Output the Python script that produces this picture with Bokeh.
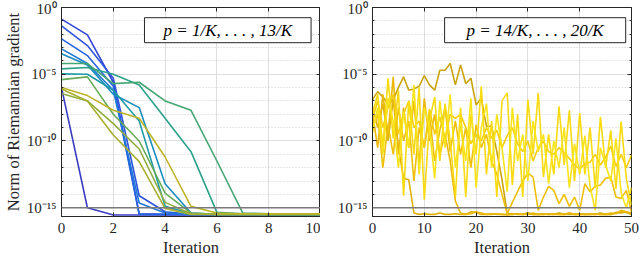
import numpy as np
from bokeh.plotting import figure
from bokeh.layouts import row
from bokeh.models import (Range1d, FixedTicker, CustomJSTickFormatter, Span, Label,
                          LinearAxis, LogAxis)
from bokeh.embed import file_html
from bokeh.resources import INLINE

# ---------------- data (log10 of gradient norm) ----------------
iter_left = list(range(11))
iter_right = list(range(51))

left_p01 = [-6.0, -15.0, -15.55, -15.55, -15.55, -15.55, -15.55, -15.55, -15.55, -15.55, -15.55]
left_p02 = [-0.87, -2.05, -5.6, -15.45, -15.5, -15.5, -15.5, -15.5, -15.5, -15.5, -15.5]
left_p03 = [-1.38, -2.85, -5.3, -14.1, -15.3, -15.5, -15.5, -15.5, -15.5, -15.5, -15.5]
left_p04 = [-2.35, -3.6, -5.9, -15.5, -15.5, -15.5, -15.5, -15.5, -15.5, -15.5, -15.5]
left_p05 = [-3.1, -4.2, -6.2, -14.65, -15.4, -15.5, -15.5, -15.5, -15.5, -15.5, -15.5]
left_p06 = [-3.47, -4.3, -6.5, -7.5, -13.2, -15.4, -15.5, -15.5, -15.5, -15.5, -15.5]
left_p07 = [-4.97, -5.0, -6.2, -8.5, -14.9, -15.45, -15.5, -15.5, -15.5, -15.5, -15.5]
left_p08 = [-4.6, -4.5, -5.0, -5.8, -8.3, -10.8, -15.35, -15.45, -15.5, -15.5, -15.5]
left_p09 = [-4.2, -4.2, -5.7, -5.6, -7.0, -7.7, -11.5, -15.4, -15.45, -15.45, -15.45]
left_p10 = [-5.4, -5.2, -8.0, -10.0, -13.9, -15.4, -15.5, -15.5, -15.5, -15.5, -15.5]
left_p11 = [-6.45, -7.0, -8.7, -10.6, -14.6, -15.45, -15.5, -15.5, -15.5, -15.5, -15.5]
left_p12 = [-6.1, -7.0, -9.55, -11.55, -15.05, -15.5, -15.5, -15.5, -15.5, -15.5, -15.5]
left_p13 = [-6.0, -6.6, -7.7, -8.3, -11.2, -14.9, -15.4, -15.45, -15.45, -15.45, -15.45]

right_p14 = [-6.9, -6.3, -6.7, -7.2, -6.9, -6.0, -5.2, -6.2, -6.1, -5.9,
             -5.1, -5.8, -6.2, -4.7, -4.7, -4.2, -5.8, -4.3, -5.7, -5.3,
             -7.3, -6.8, -8.9, -8.9, -10.8, -12.9, -15.4, -15.5, -15.45, -15.5,
             -15.4, -15.5, -15.5, -15.45, -15.5, -15.5, -15.4, -15.5, -15.5, -15.5,
             -15.45, -15.5, -15.5, -15.5, -15.4, -15.5, -15.5, -15.35, -15.4, -15.3,
             -15.5]
right_p15 = [-7.4, -9.0, -7.2, -10.0, -6.9, -10.5, -12.8, -12.9, -15.4, -15.5,
             -15.45, -15.5, -15.5, -15.4, -15.5, -15.5, -15.45, -15.5, -15.5, -15.3,
             -15.35, -15.5, -15.5, -15.45, -15.5, -15.5, -15.5, -15.45, -15.5, -15.5,
             -15.4, -15.5, -15.5, -15.5, -15.45, -15.5, -15.5, -15.5, -15.4, -15.5,
             -15.5, -15.5, -15.5, -15.45, -15.5, -15.5, -15.5, -15.4, -15.3, -15.35,
             -15.5]
right_p16 = [-7.9, -10.5, -6.5, -9.5, -5.2, -11.0, -7.5, -10.5, -7.0, -11.8,
             -6.8, -10.0, -8.0, -11.0, -9.5, -11.5, -14.5, -15.4, -15.5, -15.45,
             -15.3, -15.4, -15.5, -15.5, -15.45, -15.5, -15.55, -15.5, -15.45, -15.5,
             -15.5, -15.4, -15.5, -15.5, -15.5, -15.45, -15.5, -15.5, -15.4, -15.5,
             -15.5, -15.5, -15.45, -15.5, -15.5, -15.5, -15.4, -15.45, -15.2, -15.3,
             -15.4]
right_p17 = [-9.0, -8.0, -12.0, -8.8, -11.0, -7.5, -10.0, -8.5, -13.0, -9.0,
             -10.5, -8.0, -11.5, -9.2, -7.5, -10.8, -8.5, -11.0, -9.0, -12.0,
             -8.8, -10.5, -9.5, -11.5, -12.5, -14.0, -15.45, -14.6, -13.8, -13.0,
             -12.4, -12.7, -15.2, -14.2, -13.4, -13.7, -14.7, -14.0, -14.9, -14.2,
             -15.2, -13.2, -13.8, -13.4, -13.3, -12.8, -12.7, -14.2, -14.3, -13.7,
             -15.3]
right_p18 = [-8.4, -7.0, -9.0, -7.5, -6.5, -9.5, -8.0, -7.0, -9.0, -8.5,
             -10.5, -7.6, -9.5, -8.2, -9.8, -8.0, -8.3, -8.0, -9.0, -10.2,
             -9.5, -10.0, -9.0, -9.8, -9.2, -10.5, -9.6, -9.0, -10.2, -10.8,
             -10.0, -11.5, -10.5, -10.0, -10.8, -11.0, -10.5, -10.9, -11.3, -11.8,
             -12.1, -11.7, -11.6, -11.0, -11.8, -11.2, -10.4, -11.9, -11.0, -12.0,
             -11.05]
right_p19 = [-8.0, -6.5, -10.5, -5.3, -9.8, -6.2, -14.1, -7.0, -11.0, -6.0,
             -14.4, -8.5, -6.7, -11.5, -7.2, -10.0, -14.2, -7.5, -14.2, -8.0,
             -11.0, -5.9, -12.5, -8.5, -14.2, -7.0, -6.4, -13.3, -8.0, -14.2,
             -6.9, -11.0, -6.4, -12.7, -9.5, -12.5, -7.4, -11.8, -7.7, -13.0,
             -7.9, -12.5, -9.0, -13.5, -8.2, -12.0, -9.2, -13.6, -8.55, -12.8,
             -14.8]
right_p20 = [-9.4, -7.5, -11.0, -6.8, -8.5, -12.0, -7.8, -10.5, -5.8, -12.5,
             -7.5, -9.0, -12.8, -7.0, -10.5, -6.5, -12.0, -8.8, -11.5, -6.8,
             -13.5, -9.0, -7.2, -12.0, -8.0, -10.5, -13.8, -7.5, -11.5, -9.5,
             -13.0, -8.5, -10.8, -9.5, -13.2, -10.0, -12.0, -9.0, -13.5, -10.2,
             -12.5, -9.6, -13.4, -15.2, -10.5, -11.8, -13.0, -9.8, -13.9, -15.0,
             -13.5]

left_series = [left_p01, left_p02, left_p03, left_p04, left_p05, left_p06, left_p07,
               left_p08, left_p09, left_p10, left_p11, left_p12, left_p13]
right_series = [right_p14, right_p15, right_p16, right_p17, right_p18, right_p19, right_p20]

left_ticks = [0, 2, 4, 6, 8, 10]
right_ticks = [0, 10, 20, 30, 40, 50]
y_tick_values = [1e0, 1e-5, 1e-10, 1e-15]
y_tick_labels = ["10\u2070", "10\u207b\u2075", "10\u207b\u00b9\u2070", "10\u207b\u00b9\u2075"]
y_minor_values = [10.0 ** (-k) for k in range(1, 16) if k % 5 != 0]
threshold = 1e-15
left_box_text = "p = 1/K, . . . , 13/K"
right_box_text = "p = 14/K, . . . , 20/K"

# ---------------- styles ----------------
left_colors = ["#3a3cc4", "#3446d6", "#2e54de", "#2762e0", "#1f78d6", "#1a8cc0",
               "#1f9aa6", "#2ca28a", "#45a672", "#68ab58", "#90ae40", "#a8b030", "#bdb326"]
right_colors = ["#c9a40c", "#e0b208", "#eab808", "#efc00a", "#f5ce0a", "#f8da10", "#f8e41a"]

FONT = "Liberation Serif"
INK = "#262626"
BLANK = "return '';"

def style_mirror(ax):
    ax.axis_line_color = None
    ax.major_label_text_font_size = "0px"
    ax.major_label_standoff = 0
    ax.major_tick_line_color = INK
    ax.minor_tick_line_color = INK
    ax.major_tick_in = 4
    ax.major_tick_out = 0
    ax.minor_tick_in = 2
    ax.minor_tick_out = 0

def make_fig(width, xmax, xticks, bl, br, ylabel):
    p = figure(width=width, height=259, y_axis_type="log",
               x_range=Range1d(0, xmax), y_range=Range1d(2.2e-16, 1.0),
               output_backend="svg", toolbar_location=None,
               min_border_left=bl, min_border_right=br, min_border_top=7, min_border_bottom=43)
    p.background_fill_color = "white"
    p.border_fill_color = "white"
    p.outline_line_color = INK
    p.outline_line_width = 1
    p.xaxis.ticker = FixedTicker(ticks=xticks)
    p.yaxis.ticker = FixedTicker(ticks=y_tick_values, minor_ticks=y_minor_values)
    p.yaxis.formatter = CustomJSTickFormatter(
        args=dict(vals=y_tick_values, labs=y_tick_labels),
        code="""
        let best = 0, bd = 1e9;
        for (let i = 0; i < vals.length; i++) {
            const d = Math.abs(Math.log10(tick) - Math.log10(vals[i]));
            if (d < bd) { bd = d; best = i; }
        }
        return labs[best];
        """)
    for ax in [p.xaxis[0], p.yaxis[0]]:
        ax.major_label_text_font = FONT
        ax.major_label_text_font_style = "normal"
        ax.major_label_text_font_size = "15px"
        ax.major_label_text_color = INK
        ax.axis_line_color = INK
        ax.major_tick_line_color = INK
        ax.minor_tick_line_color = INK
        ax.major_tick_in = 4
        ax.major_tick_out = 0
        ax.minor_tick_in = 2
        ax.minor_tick_out = 0
        ax.axis_label_text_font = FONT
        ax.axis_label_text_font_size = "16.5px"
        ax.axis_label_text_font_style = "normal"
        ax.axis_label_text_color = INK
    p.xaxis.minor_tick_line_color = None
    p.xaxis.major_label_standoff = 6
    p.xaxis.axis_label = "Iteration"
    p.xaxis.axis_label_standoff = 2
    p.yaxis.major_label_standoff = 5
    if ylabel:
        p.yaxis.axis_label = ylabel
        p.yaxis.axis_label_standoff = 1

    top_ax = LinearAxis(ticker=FixedTicker(ticks=xticks),
                        formatter=CustomJSTickFormatter(code=BLANK))
    style_mirror(top_ax)
    top_ax.minor_tick_line_color = None
    p.add_layout(top_ax, "above")
    right_ax = LogAxis(ticker=FixedTicker(ticks=y_tick_values, minor_ticks=y_minor_values),
                       formatter=CustomJSTickFormatter(code=BLANK))
    style_mirror(right_ax)
    p.add_layout(right_ax, "right")

    p.xgrid.grid_line_color = "#dedede"
    p.ygrid.grid_line_color = "#dedede"
    p.ygrid.minor_grid_line_color = "#cfcfcf"
    p.ygrid.minor_grid_line_dash = "1 2"
    return p

p1 = make_fig(320, 10, left_ticks, 60, 0, "Norm of Riemannian gradient")
p2 = make_fig(320, 50, right_ticks, 52, 9, None)

for vals, c in zip(left_series, left_colors):
    p1.line(iter_left, 10.0 ** np.array(vals), line_color=c, line_width=1.6)
for vals, c in zip(right_series, right_colors):
    p2.line(iter_right, 10.0 ** np.array(vals), line_color=c, line_width=1.6)

for p in (p1, p2):
    p.add_layout(Span(location=threshold, dimension="width", line_color="#7a7a7a", line_width=1.5))

p1.add_layout(Label(x=6.42, y=10 ** -1.70, text=left_box_text, text_font=FONT,
                    text_font_style="italic", text_font_size="17px", text_color="black",
                    text_align="center", text_baseline="middle",
                    border_line_color=INK, border_line_width=1,
                    background_fill_color="white",
                    padding=dict(left=19, right=19, top=3, bottom=3)))
p2.add_layout(Label(x=31.4, y=10 ** -1.70, text=right_box_text, text_font=FONT,
                    text_font_style="italic", text_font_size="17px", text_color="black",
                    text_align="center", text_baseline="middle",
                    border_line_color=INK, border_line_width=1,
                    background_fill_color="white",
                    padding=dict(left=22, right=22, top=3, bottom=3)))

layout = row(p1, p2)
open("out.html", "w").write(file_html(layout, INLINE))
